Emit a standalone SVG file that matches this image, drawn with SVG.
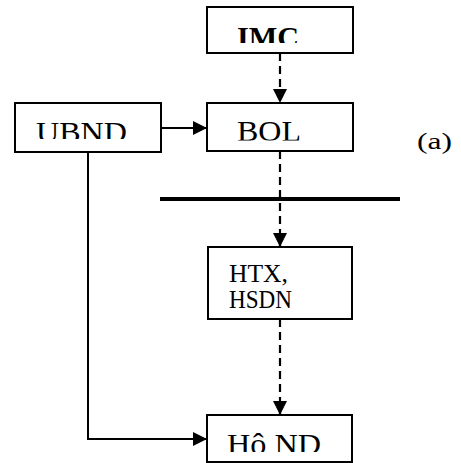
<svg xmlns="http://www.w3.org/2000/svg" width="461" height="463" viewBox="0 0 461 463">
<style>
.box{fill:#fff;stroke:#000;stroke-width:2}
.t{font-family:"Liberation Serif","Times New Roman",serif;font-size:29px;fill:#000}
.s{font-family:"Liberation Serif","Times New Roman",serif;font-size:25px;fill:#000}
.a{font-family:"Liberation Serif","Times New Roman",serif;font-size:24px;fill:#000}
.c{fill:none;stroke:#000;stroke-width:2}
.d{fill:none;stroke:#000;stroke-width:2.2;stroke-dasharray:8 5}
</style>
<defs>
<marker id="ah" viewBox="0 0 14 14" refX="14" refY="7" markerWidth="14" markerHeight="14" markerUnits="userSpaceOnUse" orient="auto">
<path d="M0,0 L14,7 L0,14 Z" fill="#000"/>
</marker>
<clipPath id="cIMC"><rect x="207" y="7" width="146" height="36"/></clipPath>
<clipPath id="cBOL"><rect x="207" y="103" width="146" height="37.5"/></clipPath>
<clipPath id="cUBND"><rect x="15" y="103" width="146" height="36"/></clipPath>
<clipPath id="cHND"><rect x="207" y="415" width="145" height="37"/></clipPath>
</defs>
<g id="connectors">
<line class="d" x1="280" y1="53" x2="280" y2="103" marker-end="url(#ah)"/>
<line class="c" x1="161" y1="128" x2="207" y2="128" marker-end="url(#ah)"/>
<line class="d" x1="280" y1="151" x2="280" y2="247" marker-end="url(#ah)"/>
<line class="d" x1="280" y1="319" x2="280" y2="415" marker-end="url(#ah)"/>
<polyline class="c" points="88,152 88,439 207,439" marker-end="url(#ah)"/>
</g>
<line id="divider" x1="160" y1="199" x2="400" y2="199" stroke="#000" stroke-width="4"/>
<g id="IMC">
<rect class="box" x="207" y="7" width="146" height="46"/>
<text class="t" x="237" y="47" font-weight="bold" textLength="62" lengthAdjust="spacingAndGlyphs" clip-path="url(#cIMC)">IMC</text>
</g>
<g id="BOL">
<rect class="box" x="207" y="103" width="146" height="48"/>
<text class="t" x="237" y="141" textLength="64" lengthAdjust="spacingAndGlyphs" clip-path="url(#cBOL)">BOL</text>
</g>
<g id="UBND">
<rect class="box" x="15" y="103" width="146" height="49"/>
<text class="t" x="36" y="142" textLength="91" lengthAdjust="spacingAndGlyphs" clip-path="url(#cUBND)">UBND</text>
</g>
<g id="HTX">
<rect class="box" x="208" y="247" width="144" height="72"/>
<text class="s" x="229" y="281.5" textLength="59" lengthAdjust="spacingAndGlyphs">HTX,</text>
<text class="s" x="229" y="308" textLength="63" lengthAdjust="spacingAndGlyphs">HSDN</text>
</g>
<g id="HoND">
<rect class="box" x="207" y="415" width="145" height="47"/>
<text class="t" x="227" y="454" textLength="94" lengthAdjust="spacingAndGlyphs" clip-path="url(#cHND)">Hô ND</text>
</g>
<text id="label-a" class="a" x="417" y="149" textLength="35" lengthAdjust="spacingAndGlyphs">(a)</text>
</svg>
